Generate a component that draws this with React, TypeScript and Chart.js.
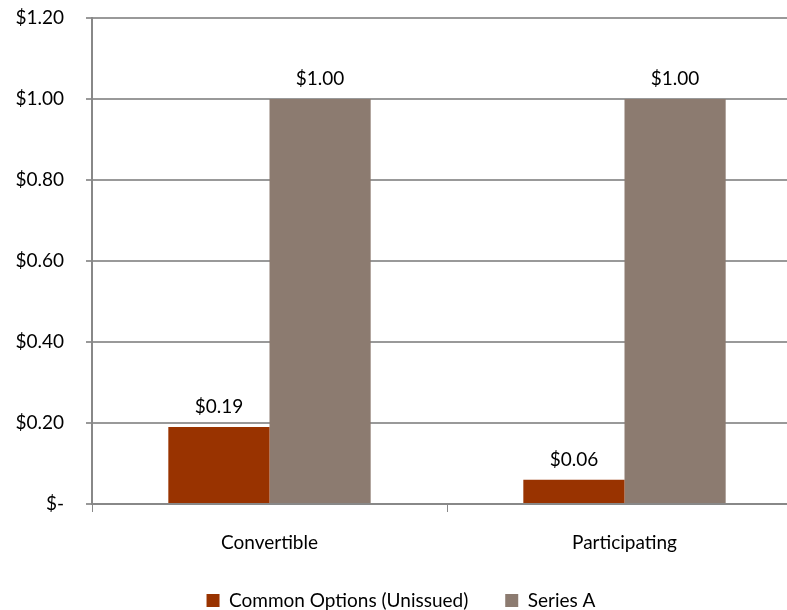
import React, { useEffect, useRef } from "react";
import { Chart, registerables } from "chart.js";

Chart.register(...registerables);

const categories = ["Convertible", "Participating"];
const commonOptions = [0.19, 0.06];
const seriesA = [1.0, 1.0];
const seriesNames = ["Common Options (Unissued)", "Series A"];
const colors = ["#993300", "#8c7b70"];

const FONT = "Lato, 'Open Sans', sans-serif";
const FS = 19;

const fmt = (v: number) => (v === 0 ? "$-" : "$" + v.toFixed(2));

const dataLabels = {
  id: "dataLabels",
  afterDatasetsDraw(chart: any) {
    const ctx = chart.ctx;
    ctx.save();
    ctx.font = `${FS}px ${FONT}`;
    ctx.fillStyle = "#000";
    ctx.textAlign = "center";
    ctx.textBaseline = "alphabetic";
    chart.data.datasets.forEach((ds: any, i: number) => {
      const meta = chart.getDatasetMeta(i);
      meta.data.forEach((el: any, j: number) => {
        ctx.fillText(fmt(ds.data[j]), el.x, el.y - 14);
      });
    });
    ctx.restore();
  },
};

export default function App() {
  const ref = useRef<HTMLCanvasElement>(null);
  useEffect(() => {
    const chart = new Chart(ref.current!, {
      type: "bar",
      data: {
        labels: categories,
        datasets: [
          {
            label: seriesNames[0],
            data: commonOptions,
            backgroundColor: colors[0],
            categoryPercentage: 0.57,
            barPercentage: 1.0,
          },
          {
            label: seriesNames[1],
            data: seriesA,
            backgroundColor: colors[1],
            categoryPercentage: 0.57,
            barPercentage: 1.0,
          },
        ],
      },
      options: {
        animation: false,
        responsive: true,
        maintainAspectRatio: false,
        layout: { padding: { top: 18, right: 20, left: 0, bottom: 2 } },
        plugins: {
          legend: {
            position: "bottom",
            labels: {
              boxWidth: 13,
              boxHeight: 13,
              padding: 37,
              color: "#000",
              font: { family: FONT, size: FS },
            },
          },
          tooltip: { enabled: false },
        },
        scales: {
          x: {
            grid: {
              display: true,
              drawOnChartArea: false,
              drawTicks: true,
              tickLength: 8,
              color: "#888",
            },
            border: { display: true, color: "#888", width: 2 },
            ticks: {
              color: "#000",
              font: { family: FONT, size: FS },
              padding: 19,
            },
            afterFit: (s: any) => {
              s.height = 50;
            },
          },
          y: {
            min: 0,
            max: 1.2,
            grid: {
              color: "#999",
              lineWidth: 2,
              tickLength: 6,
            },
            border: { display: true, color: "#888", width: 2 },
            ticks: {
              stepSize: 0.2,
              color: "#000",
              font: { family: FONT, size: FS },
              padding: 22,
              callback: (v: any) => fmt(Number(v)),
            },
            afterFit: (s: any) => {
              s.width = 92;
              s.paddingTop = 0;
              s.paddingBottom = 0;
            },
          },
        },
      },
      plugins: [dataLabels],
    });
    return () => chart.destroy();
  }, []);
  return (
    <div style={{ position: "fixed", left: 0, top: 0, width: 822, height: 622, background: "#fff" }}>
      <canvas ref={ref} />
    </div>
  );
}
